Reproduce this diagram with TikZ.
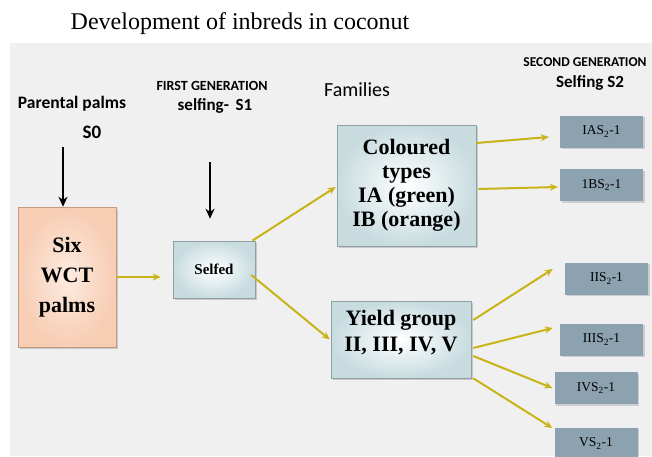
\documentclass[tikz,border=0pt]{standalone}
\usepackage{fontspec}
\setmainfont{Liberation Serif}
\newfontfamily\hdfont{Carlito}
\usetikzlibrary{arrows.meta,shadows}

\definecolor{panelgrey}{HTML}{F0F0F0}
\definecolor{arrowgold}{HTML}{C8B417}
\definecolor{sboxblue}{HTML}{8CA2B0}
\definecolor{peachout}{HTML}{F7CDB4}
\definecolor{peachin}{HTML}{FDEBE0}
\definecolor{peachedge}{HTML}{C49A80}
\definecolor{famout}{HTML}{C8DCE0}
\definecolor{famedge}{HTML}{8FA0A4}

\tikzset{
  hdtext/.style={font=\hdfont\bfseries, inner sep=0pt},
  goldarrow/.style={draw=arrowgold, line width=2pt, -{Stealth[length=8pt,width=7pt]}},
  blackarrow/.style={draw=black, line width=2.2pt, -{Stealth[length=10pt,width=9pt]}},
  famboxstyle/.style={draw=famedge, line width=0.6pt, inner color=white, outer color=famout,
    drop shadow={opacity=0.35,shadow xshift=2pt,shadow yshift=-2pt}, align=center, inner sep=0pt},
  sbox/.style={fill=sboxblue, minimum width=83pt, minimum height=32pt, inner sep=0pt,
    font=\fontsize{13.5}{15}\selectfont, drop shadow={opacity=0.3,shadow xshift=1.5pt,shadow yshift=-1.5pt}},
}

\begin{document}
\begin{tikzpicture}[x=1pt,y=-1pt]
\useasboundingbox (0,0) rectangle (652,456);
\fill[panelgrey] (10,43) rectangle (652,456);

\node[inner sep=0pt, font=\fontsize{24}{26}\selectfont] (title) at (240,24) {Development of inbreds in coconut};

\node[hdtext, font=\hdfont\bfseries\fontsize{17.5}{20}\selectfont] (parent) at (72,104) {Parental palms};
\node[hdtext, font=\hdfont\bfseries\fontsize{19}{22}\selectfont] (szero) at (92,132) {S0};
\node[hdtext, font=\hdfont\bfseries\fontsize{14}{16}\selectfont] (firstgen) at (212,86) {FIRST GENERATION};
\node[hdtext, font=\hdfont\bfseries\fontsize{17}{19}\selectfont] (sone) at (215,106) {selfing-\, S1};
\node[inner sep=0pt, font=\hdfont\fontsize{20}{22}\selectfont] (families) at (357,90) {Families};
\node[hdtext, font=\hdfont\bfseries\fontsize{13.5}{16}\selectfont] (secondgen) at (585,62) {SECOND GENERATION};
\node[hdtext, font=\hdfont\bfseries\fontsize{17}{19}\selectfont] (stwo) at (590,83) {Selfing S2};

\node[draw=peachedge, line width=0.6pt, inner color=peachin, outer color=peachout,
  drop shadow={opacity=0.35,shadow xshift=2pt,shadow yshift=-2pt},
  minimum width=98pt, minimum height=140pt, align=center, inner sep=0pt,
  font=\bfseries\fontsize{22}{30}\selectfont] (six) at (67,277) {Six\\WCT\\palms};
\node[famboxstyle, minimum width=82pt, minimum height=57pt,
  font=\bfseries\fontsize{15}{18}\selectfont] (selfed) at (214,269.5) {Selfed};
\node[famboxstyle, minimum width=139pt, minimum height=121pt,
  font=\bfseries\fontsize{22}{24}\selectfont] (col) at (406.5,185.5) {Coloured\\types\\IA (green)\\IB (orange)};
\node[famboxstyle, minimum width=140pt, minimum height=77pt] (yield) at (401,339.5) {};
\node[inner sep=0pt, align=center, font=\bfseries\fontsize{22}{26}\selectfont] (yieldtext) at (401,333) {Yield group\\II, III, IV, V};

\node[sbox] (ias) at (601.5,131.5) {IAS\textsubscript{2}-1};
\node[sbox] (ibs) at (601.5,185) {1BS\textsubscript{2}-1};
\node[sbox] (iis) at (606.5,278.5) {IIS\textsubscript{2}-1};
\node[sbox] (iiis) at (601.5,339.5) {IIIS\textsubscript{2}-1};
\node[sbox] (ivs) at (596,388) {IVS\textsubscript{2}-1};
\node[sbox] (vs) at (596,443.5) {VS\textsubscript{2}-1};

\coordinate (pz) at (63,147);
\coordinate (po) at (210,162);
\draw[blackarrow] (pz) -- (pz |- six.north);
\draw[blackarrow, shorten >=22pt] (po) -- (po |- selfed.north);

\draw[goldarrow, shorten >=12pt] (six.east) -- (six.east -| selfed.west);
\draw[goldarrow] ([xshift=-3pt]selfed.north east) -- ([xshift=-1pt,yshift=-1.5pt]col.west);
\draw[goldarrow] ([xshift=-4pt,yshift=-5.5pt]selfed.east) -- ([xshift=-1pt]yield.west);
\draw[goldarrow] ([yshift=42.5pt]col.east) -- ([xshift=-11pt,yshift=-5.5pt]ias.west);
\draw[goldarrow] ([xshift=2pt,yshift=-3.5pt]col.east) -- ([xshift=-2pt,yshift=-2pt]ibs.west);
\draw[goldarrow] ([xshift=2pt,yshift=19.5pt]yield.east) -- ([xshift=-12pt,yshift=9.5pt]iis.west);
\draw[goldarrow] ([xshift=2pt,yshift=-8.5pt]yield.east) -- ([xshift=-7pt,yshift=11.5pt]iiis.west);
\draw[goldarrow] ([xshift=2pt,yshift=-16.5pt]yield.east) -- ([xshift=-2pt]ivs.west);
\draw[goldarrow] ([xshift=2pt]yield.south east) -- ([xshift=-2pt,yshift=15.5pt]vs.west);
\end{tikzpicture}
\end{document}
